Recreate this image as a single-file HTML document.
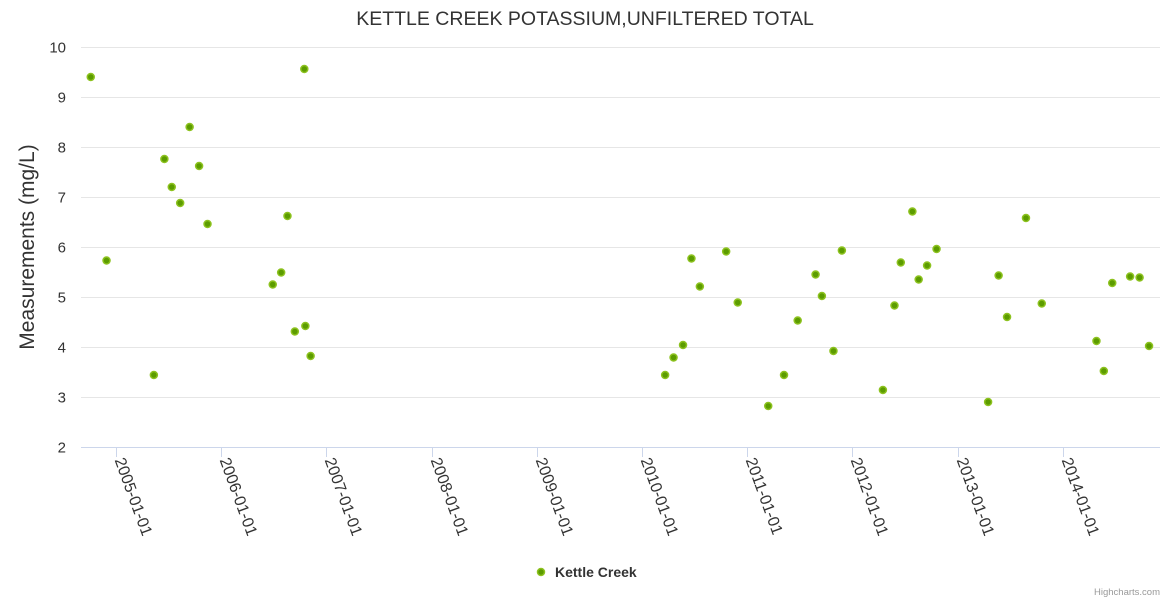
<!DOCTYPE html>
<html><head><meta charset="utf-8"><style>
html,body{margin:0;padding:0;background:#fff;}
svg{display:block;font-family:"Liberation Sans",sans-serif;}
</style></head><body>
<svg id="chart" width="1170" height="600">
<rect width="1170" height="600" fill="#fff"/>
<text x="585" y="25" text-anchor="middle" font-size="19.5" fill="#333">KETTLE CREEK POTASSIUM,UNFILTERED TOTAL</text>
<text transform="translate(34,247) rotate(-90)" text-anchor="middle" font-size="21" fill="#333">Measurements (mg/L)</text>
<g id="grid"></g><g id="xaxis"></g><g id="pts"></g>
<g>
<circle cx="541" cy="572" r="3.5" fill="#5c9c00" stroke="#8dc21f" stroke-width="1.5"/>
<text x="555" y="577" font-size="14" font-weight="bold" fill="#333">Kettle Creek</text>
</g>
<text x="1160" y="595" text-anchor="end" font-size="9.5" fill="#999">Highcharts.com</text>
</svg>
<script>
const yTicks=[2,3,4,5,6,7,8,9,10];
const xTickYears=[2005,2006,2007,2008,2009,2010,2011,2012,2013,2014];
const xTickLabels=["2005-01-01","2006-01-01","2007-01-01","2008-01-01","2009-01-01","2010-01-01","2011-01-01","2012-01-01","2013-01-01","2014-01-01"];
const dates=[2004.76,2004.91,2005.36,2005.46,2005.53,2005.61,2005.70,2005.79,2005.87,2006.49,2006.57,2006.63,2006.70,2006.79,2006.80,2006.85,
2010.22,2010.30,2010.39,2010.47,2010.55,2010.80,2010.91,2011.20,2011.35,2011.48,2011.65,2011.71,2011.82,2011.90,
2012.29,2012.40,2012.46,2012.57,2012.63,2012.71,2012.80,2013.29,2013.39,2013.47,2013.65,2013.80,2014.32,2014.39,2014.47,2014.64,2014.73,2014.82];
const values=[9.4,5.73,3.44,7.76,7.2,6.88,8.4,7.62,6.46,5.25,5.49,6.62,4.31,9.56,4.42,3.82,
3.44,3.79,4.04,5.77,5.21,5.91,4.89,2.82,3.44,4.53,5.45,5.02,3.92,5.93,
3.14,4.83,5.69,6.71,5.35,5.63,5.96,2.9,5.43,4.6,6.58,4.87,4.12,3.52,5.28,5.41,5.39,4.02];
const NS="http://www.w3.org/2000/svg";
const L=81,R=1160,T=47,B=447;
const xs=yr=>116+(yr-2005)*105.2;
const ys=v=>B-(v-2)*(B-T)/8;
function mk(tag,attrs,parent){const e=document.createElementNS(NS,tag);for(const k in attrs)e.setAttribute(k,attrs[k]);parent.appendChild(e);return e;}
const grid=document.getElementById('grid');
yTicks.forEach(t=>{
  const y=Math.round(ys(t))+0.5;
  if(t>2){const g=mk('line',{x1:L,x2:R,y1:y,y2:y,stroke:'#e6e6e6'},grid);
  
  }
  const tx=mk('text',{x:66,y:y+5,'text-anchor':'end','font-size':15,fill:'#333'},grid);
  tx.textContent=t;
  
  
});
const xa=document.getElementById('xaxis');
const axl=mk('line',{x1:L,x2:R,y1:447.5,y2:447.5,stroke:'#ccd6eb'},xa);


xTickYears.forEach((yr,i)=>{
  const x=Math.round(xs(yr))+0.5;
  const tk=mk('line',{x1:x,x2:x,y1:447,y2:457,stroke:'#ccd6eb'},xa);
  
  
  const tx=mk('text',{transform:`translate(${x-2},460) rotate(70)`,'font-size':16,fill:'#333'},xa);
  tx.textContent=xTickLabels[i];
  
  
});
const pts=document.getElementById('pts');
dates.forEach((d,i)=>{
  const c=mk('circle',{cx:xs(d),cy:ys(values[i]),r:3.5,fill:'#5c9c00',stroke:'#8dc21f','stroke-width':1.5},pts);
  
  
});
</script>
</body></html>
